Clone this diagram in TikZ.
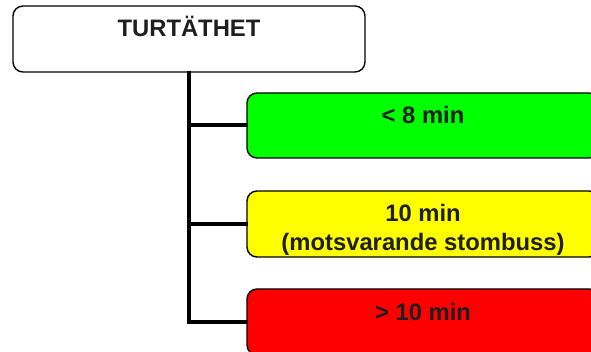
\documentclass[tikz,border=0pt]{standalone}
\usepackage{fontspec}
\setmainfont{Liberation Sans}
\usepackage{xcolor}
\usetikzlibrary{positioning}
\definecolor{txtgray}{HTML}{1E1E1E}
\definecolor{fastgreen}{HTML}{00FF00}
\definecolor{stomyellow}{HTML}{FFFF00}
\definecolor{slowred}{HTML}{FF0000}
\tikzset{
	levelbox/.style={draw=black, line width=1.4pt, rounded corners=10pt, minimum width=352pt, inner sep=0pt},
	levellbl/.style={inner sep=0pt, text=txtgray, font=\fontsize{23.8}{29}\selectfont\bfseries, text height=17pt, text depth=0pt},
	branch/.style={line width=4pt, line cap=rect}
}

\begin{document}
\begin{tikzpicture}[x=1pt, y=-1pt]
		\useasboundingbox (0,0) rectangle (591,352);
		\clip (0,0) rectangle (591,352);
		\node[levelbox, fill=white, minimum height=66pt] (tur) at (189,39) {};
		\node[levelbox, fill=fastgreen, minimum height=65pt] (kort) at (423,125.5) {};
		\node[levelbox, fill=stomyellow, minimum height=66pt] (stom) at (423,224) {};
		\node[levelbox, fill=slowred, minimum height=66pt] (lang) at (423,322) {};

		\draw[branch] (tur.south) |- (kort.west);
		\draw[branch] (tur.south) |- (stom.west);
		\draw[branch] (tur.south) |- (lang.west);

		\node[levellbl] (turlbl) at (189,28) {TURTÄTHET};
		\node[levellbl] (kortlbl) at (423,115) {< 8 min};
		\node[levellbl, align=center, text height=, text depth=] (stomlbl) at (423,229.5) {10 min\\(motsvarande stombuss)};
		\node[levellbl] (langlbl) at (423,312) {> 10 min};
\end{tikzpicture}
\end{document}
